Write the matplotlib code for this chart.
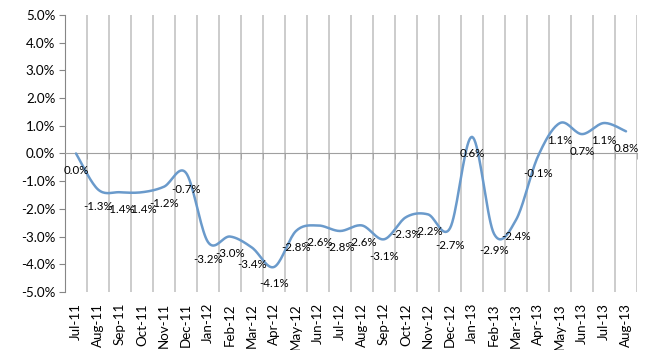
import numpy as np
import matplotlib
matplotlib.use("Agg")
import matplotlib.pyplot as plt
from matplotlib.ticker import FixedLocator

plt.rcParams['font.family'] = ['Lato', 'DejaVu Sans']
plt.rcParams['axes.unicode_minus'] = False

# Data
months = ['Jul-11', 'Aug-11', 'Sep-11', 'Oct-11', 'Nov-11', 'Dec-11',
          'Jan-12', 'Feb-12', 'Mar-12', 'Apr-12', 'May-12', 'Jun-12',
          'Jul-12', 'Aug-12', 'Sep-12', 'Oct-12', 'Nov-12', 'Dec-12',
          'Jan-13', 'Feb-13', 'Mar-13', 'Apr-13', 'May-13', 'Jun-13',
          'Jul-13', 'Aug-13']
values = [0.0, -1.3, -1.4, -1.4, -1.2, -0.7,
          -3.2, -3.0, -3.4, -4.1, -2.8, -2.6,
          -2.8, -2.6, -3.1, -2.3, -2.2, -2.7,
          0.6, -2.9, -2.4, -0.1, 1.1, 0.7,
          1.1, 0.8]
y_ticks = [5, 4, 3, 2, 1, 0, -1, -2, -3, -4, -5]


def smooth(x, y, steps=20):
    # Catmull-Rom spline, roughly what Excel does for "smoothed line"
    x = np.asarray(x, float)
    y = np.asarray(y, float)
    px = np.concatenate([[x[0]], x, [x[-1]]])
    py = np.concatenate([[y[0]], y, [y[-1]]])
    xs, ys = [], []
    t = np.linspace(0, 1, steps)
    for i in range(1, len(px) - 2):
        p0x, p1x, p2x, p3x = px[i - 1], px[i], px[i + 1], px[i + 2]
        p0y, p1y, p2y, p3y = py[i - 1], py[i], py[i + 1], py[i + 2]
        c1x, c1y = p1x + (p2x - p0x) / 6, p1y + (p2y - p0y) / 6
        c2x, c2y = p2x - (p3x - p1x) / 6, p2y - (p3y - p1y) / 6
        b = [(1 - t) ** 3, 3 * (1 - t) ** 2 * t, 3 * (1 - t) * t ** 2, t ** 3]
        xs.append(b[0] * p1x + b[1] * c1x + b[2] * c2x + b[3] * p2x)
        ys.append(b[0] * p1y + b[1] * c1y + b[2] * c2y + b[3] * p2y)
    return np.concatenate(xs), np.concatenate(ys)


fig = plt.figure(figsize=(6.5, 3.5), dpi=100)
ax = fig.add_axes([0.1, 0.166, 0.88, 0.791])

x = np.arange(len(months))
sx, sy = smooth(x, values)
ax.plot(sx, sy, color='#6a9acb', linewidth=1.8, zorder=3, solid_capstyle='round')

for xi, v in zip(x, values):
    ax.annotate(f'{v:.1f}%', (xi, v), xytext=(0, -17), textcoords='offset pixels',
                ha='center', va='center', fontsize=8.3, color='black', zorder=4)

ax.set_xlim(-0.5, len(months) - 0.5)
ax.set_ylim(-5, 5)

# y axis
ax.set_yticks(y_ticks)
ax.set_yticklabels([f'{t:.1f}%' for t in y_ticks], fontsize=9.6)
ax.tick_params(axis='y', direction='out', length=4, color='#868686', pad=3)
ax.spines['left'].set_color('#868686')
ax.spines['right'].set_visible(False)
ax.spines['top'].set_visible(False)

# category axis crossing at zero
ax.spines['bottom'].set_position(('data', 0))
ax.spines['bottom'].set_color('#a0a0a0')
ax.xaxis.set_major_locator(FixedLocator(x))
ax.xaxis.set_minor_locator(FixedLocator(np.arange(len(months) + 1) - 0.5))
ax.tick_params(axis='x', which='major', length=0, labelbottom=False)
ax.tick_params(axis='x', which='minor', direction='out', length=4, color='#a0a0a0')
ax.grid(which='minor', axis='x', color='#c8c8c8', linewidth=1.3)
ax.set_axisbelow(True)

# month labels at the bottom of the plot
sec = ax.secondary_xaxis(0.0)
sec.set_xticks(x)
sec.set_xticklabels(months, rotation=90, fontsize=9.6)
sec.tick_params(length=0, pad=8)
sec.spines['bottom'].set_visible(False)

fig.savefig('out.png', dpi=100)
